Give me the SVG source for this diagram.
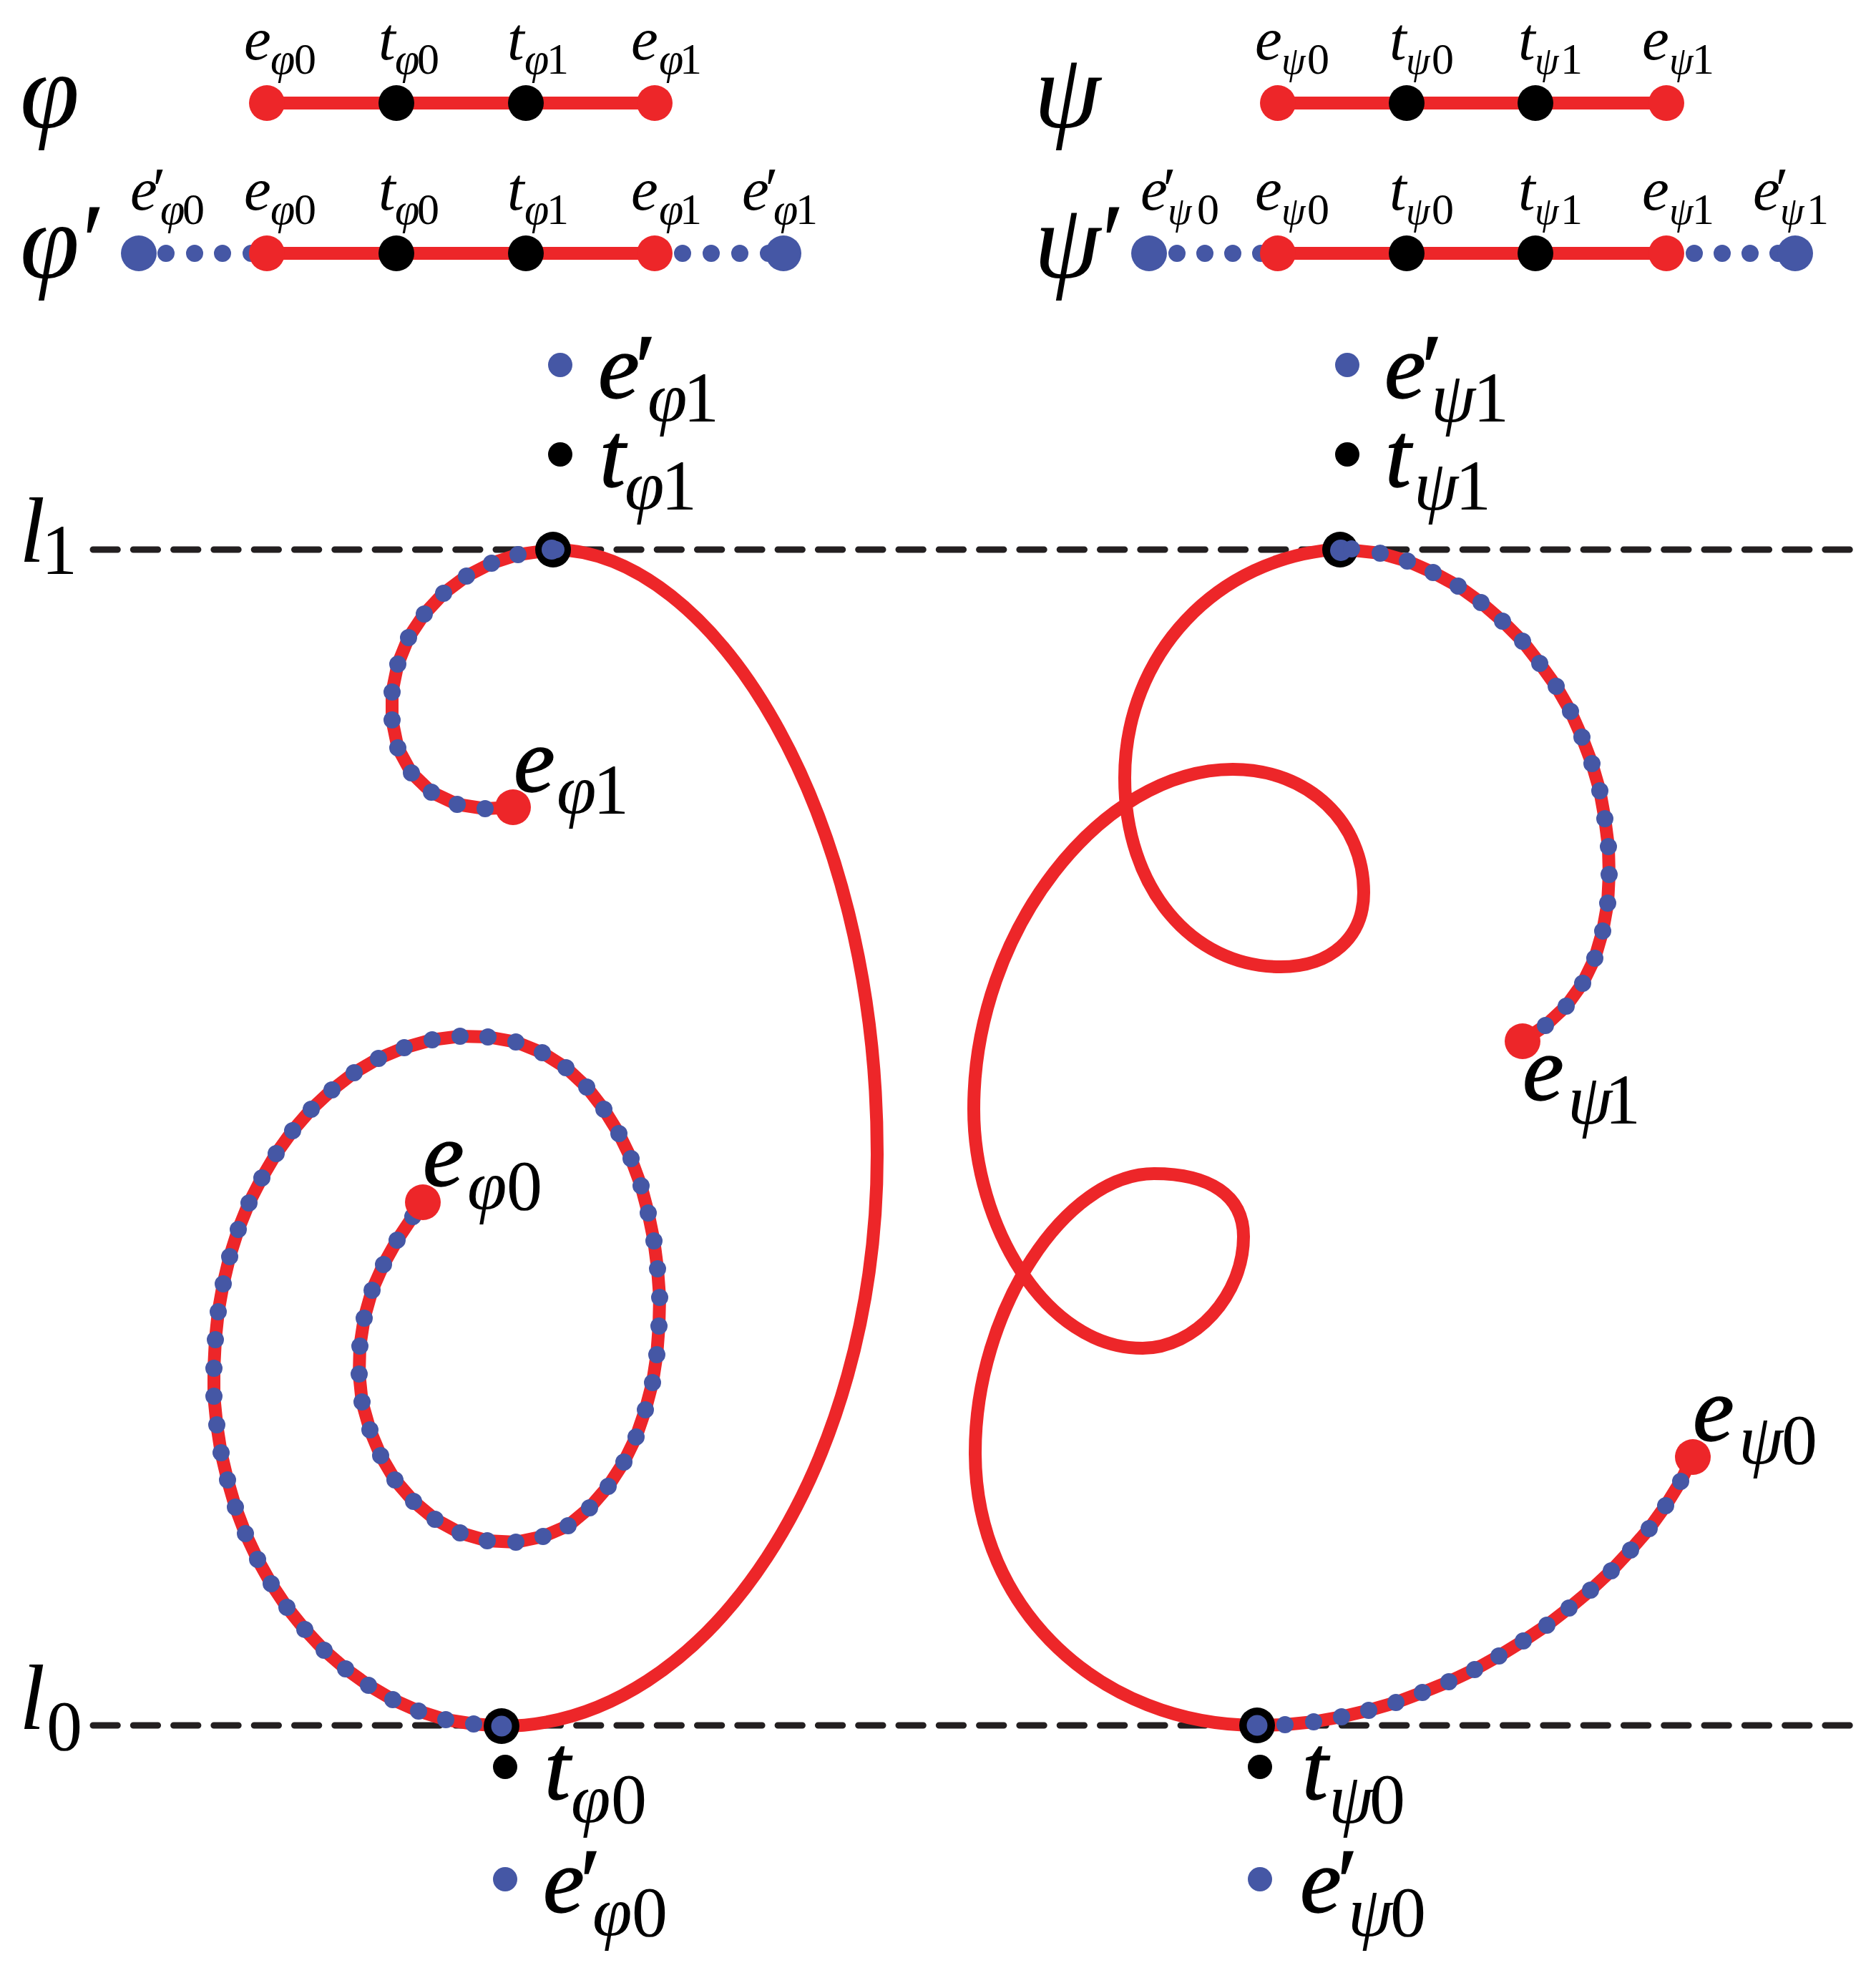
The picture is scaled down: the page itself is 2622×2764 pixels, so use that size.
<svg xmlns="http://www.w3.org/2000/svg" width="2622" height="2764" viewBox="0 0 2622 2764">
<style>
text{font-family:"Liberation Serif","Times New Roman",serif;fill:#000}
.R{font-style:italic;font-size:150px}
.b{font-style:italic;font-size:130px;stroke:#000;stroke-width:1.5px}
.bs{font-style:italic;font-size:100px}
.bd{font-size:100px}
.s{font-style:italic;font-size:85px}
.ss{font-style:italic;font-size:62px}
.sp{font-style:italic;font-size:54px}
.sd{font-size:62px}
.curve{fill:none;stroke:#ed2629;stroke-width:18;stroke-linejoin:round}
.bar{fill:none;stroke:#ed2629;stroke-width:18}
.dash{fill:none;stroke:#231f20;stroke-width:9;stroke-dasharray:34.3 22;stroke-linecap:round}
.dots{fill:none;stroke:#4557a5;stroke-width:24;stroke-linecap:round}
.red{fill:#ed2629}.blk{fill:#000}.blu{fill:#4557a5}
</style>
<g id="connectors">
<path class="dash" d="M130 768H2586"/>
<path class="dash" d="M130 2411H2586"/>
<path class="bar" d="M373 144H915M373 354H915M1786 144H2329M1786 354H2329"/>
<path class="dots" d="M232 354h0M272 354h0M311 354h0M351 354h0M954 354h0M994 354h0M1034 354h0M1074 354h0M1645 354h0M1684 354h0M1723 354h0M1762 354h0M2368 354h0M2407 354h0M2446 354h0M2485 354h0"/>
<path id="curve-phi" class="curve" d="M717 1128L678 1130 639 1124 603 1107 575 1080 556 1045 548 1006 548 967 556 928 571 891 593 858 620 829 652 805 687 787 724 775 773 768C995 768 1226 1130 1226 1613C1226 2050 990 2412 701 2412L662 2409 623 2403 585 2391 549 2375 515 2355 483 2332 453 2306 426 2277 401 2246 379 2213 360 2179 343 2143 329 2106 318 2068 309 2030 303 1991 299 1951 299 1912 301 1872 305 1833 312 1794 321 1756 333 1718 348 1681 366 1646 386 1612 409 1580 435 1550 464 1523 495 1499 529 1479 565 1464 604 1453 643 1448 682 1449 721 1456 758 1471 791 1492 820 1519 844 1550 865 1584 882 1619 896 1657 906 1695 914 1734 919 1773 922 1813 921 1853 918 1893 912 1932 902 1970 889 2008 872 2043 850 2077 824 2107 794 2132 759 2147 721 2155 681 2153 643 2142 608 2123 578 2098 552 2068 532 2034 517 1998 506 1959 502 1920 503 1881 509 1842 520 1803 536 1767 555 1733 577 1700 591 1680"/>
<path id="curve-psi" class="curve" d="M2128 1455L2160 1433 2189 1406 2212 1374 2229 1339 2240 1301 2247 1262 2249 1222 2248 1183 2243 1144 2236 1105 2225 1067 2211 1030 2195 994 2175 959 2152 927 2128 896 2100 868 2070 842 2038 819 2003 800 1967 784 1929 773 1873 767C1700 778 1572 915 1572 1087C1572 1240 1665 1351 1790 1351C1860 1351 1906 1310 1906 1247C1906 1150 1830 1075 1723 1075C1540 1075 1361 1300 1361 1550C1361 1710 1460 1884 1597 1884C1670 1884 1738 1810 1738 1728C1738 1670 1690 1640 1613 1640C1490 1640 1363 1830 1363 2030C1363 2250 1540 2411 1757 2411L1796 2410 1836 2406 1875 2399 1913 2390 1951 2379 1988 2365 2025 2350 2061 2333 2095 2314 2129 2293 2162 2271 2193 2247 2223 2222 2252 2195 2279 2166 2305 2136 2328 2104 2349 2070 2366 2036"/>
</g>
<g id="node-e-phi1-point"><circle class="red" cx="717" cy="1128" r="25"/></g>
<g id="node-e-psi1-point"><circle class="red" cx="2128" cy="1455" r="25"/></g>
<g id="node-e-psi0-point"><circle class="red" cx="2366" cy="2036" r="25"/></g>
<g id="curve-dots">
<path class="dots" d="M678 1130h0M639 1124h0M603 1107h0M575 1080h0M556 1045h0M548 1006h0M548 967h0M556 928h0M571 891h0M593 858h0M620 829h0M652 805h0M687 787h0M724 775h0M662 2409h0M623 2403h0M585 2391h0M549 2375h0M515 2355h0M483 2332h0M453 2306h0M426 2277h0M401 2246h0M379 2213h0M360 2179h0M343 2143h0M329 2106h0M318 2068h0M309 2030h0M303 1991h0M299 1951h0M299 1912h0M301 1872h0M305 1833h0M312 1794h0M321 1756h0M333 1718h0M348 1681h0M366 1646h0M386 1612h0M409 1580h0M435 1550h0M464 1523h0M495 1499h0M529 1479h0M565 1464h0M604 1453h0M643 1448h0M682 1449h0M721 1456h0M758 1471h0M791 1492h0M820 1519h0M844 1550h0M865 1584h0M882 1619h0M896 1657h0M906 1695h0M914 1734h0M919 1773h0M922 1813h0M921 1853h0M918 1893h0M912 1932h0M902 1970h0M889 2008h0M872 2043h0M850 2077h0M824 2107h0M794 2132h0M759 2147h0M721 2155h0M681 2153h0M643 2142h0M608 2123h0M578 2098h0M552 2068h0M532 2034h0M517 1998h0M506 1959h0M502 1920h0M503 1881h0M509 1842h0M520 1803h0M536 1767h0M555 1733h0M577 1700h0"/>
<path class="dots" d="M2160 1433h0M2189 1406h0M2212 1374h0M2229 1339h0M2240 1301h0M2247 1262h0M2249 1222h0M2248 1183h0M2243 1144h0M2236 1105h0M2225 1067h0M2211 1030h0M2195 994h0M2175 959h0M2152 927h0M2128 896h0M2100 868h0M2070 842h0M2038 819h0M2003 800h0M1967 784h0M1929 773h0M1796 2410h0M1836 2406h0M1875 2399h0M1913 2390h0M1951 2379h0M1988 2365h0M2025 2350h0M2061 2333h0M2095 2314h0M2129 2293h0M2162 2271h0M2193 2247h0M2223 2222h0M2252 2195h0M2279 2166h0M2305 2136h0M2328 2104h0M2349 2070h0"/>
</g>
<g id="node-e-phi0-point"><circle class="red" cx="591" cy="1680" r="25"/></g>
<g id="node-tangent-phi1"><circle class="blk" cx="773" cy="768" r="25"/><circle class="blu" cx="771" cy="768" r="14"/><circle class="blu" cx="777" cy="768" r="12"/></g>
<g id="node-tangent-phi0"><circle class="blk" cx="701" cy="2412" r="25"/><circle class="blu" cx="701" cy="2412" r="14.5"/></g>
<g id="node-tangent-psi1"><circle class="blk" cx="1873" cy="768" r="25"/><circle class="blu" cx="1874" cy="769" r="15"/><circle class="blu" cx="1889" cy="767" r="12"/></g>
<g id="node-tangent-psi0"><circle class="blk" cx="1757" cy="2411" r="25"/><circle class="blu" cx="1757" cy="2411" r="14.5"/></g>
<g id="node-phi-row1">
<circle class="red" cx="373" cy="144" r="25"/><circle class="blk" cx="554" cy="144" r="25"/><circle class="blk" cx="735" cy="144" r="25"/><circle class="red" cx="915" cy="144" r="25"/>
<text class="R" x="28" y="178">φ</text>
<text><tspan class="s" x="341" y="83">e</tspan><tspan class="ss" x="378" y="103">φ</tspan><tspan class="sd" x="411" y="103">0</tspan></text>
<text><tspan class="s" x="529" y="83">t</tspan><tspan class="ss" x="552" y="103">φ</tspan><tspan class="sd" x="583" y="103">0</tspan></text>
<text><tspan class="s" x="709" y="83">t</tspan><tspan class="ss" x="733" y="103">φ</tspan><tspan class="sd" x="764" y="103">1</tspan></text>
<text><tspan class="s" x="882" y="83">e</tspan><tspan class="ss" x="921" y="103">φ</tspan><tspan class="sd" x="950" y="103">1</tspan></text>
</g>
<g id="node-phi-row2">
<circle class="blu" cx="194" cy="354" r="25"/><circle class="red" cx="373" cy="354" r="25"/><circle class="blk" cx="554" cy="354" r="25"/><circle class="blk" cx="735" cy="354" r="25"/><circle class="red" cx="915" cy="354" r="25"/><circle class="blu" cx="1095" cy="354" r="25"/>
<text><tspan class="R" x="28" y="388">φ</tspan><tspan class="R" x="105" y="388">′</tspan></text>
<text><tspan class="s" x="182" y="293">e</tspan><tspan class="s" x="208" y="293">′</tspan><tspan class="ss" x="224" y="313">φ</tspan><tspan class="sd" x="255" y="313">0</tspan></text>
<text><tspan class="s" x="341" y="293">e</tspan><tspan class="ss" x="378" y="313">φ</tspan><tspan class="sd" x="411" y="313">0</tspan></text>
<text><tspan class="s" x="529" y="293">t</tspan><tspan class="ss" x="552" y="313">φ</tspan><tspan class="sd" x="583" y="313">0</tspan></text>
<text><tspan class="s" x="709" y="293">t</tspan><tspan class="ss" x="733" y="313">φ</tspan><tspan class="sd" x="764" y="313">1</tspan></text>
<text><tspan class="s" x="882" y="293">e</tspan><tspan class="ss" x="921" y="313">φ</tspan><tspan class="sd" x="950" y="313">1</tspan></text>
<text><tspan class="s" x="1037" y="293">e</tspan><tspan class="s" x="1064" y="293">′</tspan><tspan class="ss" x="1081" y="313">φ</tspan><tspan class="sd" x="1112" y="313">1</tspan></text>
</g>
<g id="node-psi-row1">
<circle class="red" cx="1786" cy="144" r="25"/><circle class="blk" cx="1966" cy="144" r="25"/><circle class="blk" cx="2146" cy="144" r="25"/><circle class="red" cx="2329" cy="144" r="25"/>
<text class="R" x="1445" y="178">ψ</text>
<text><tspan class="s" x="1754" y="83">e</tspan><tspan class="sp" x="1791" y="103">ψ</tspan><tspan class="sd" x="1827" y="103">0</tspan></text>
<text><tspan class="s" x="1942" y="83">t</tspan><tspan class="sp" x="1965" y="103">ψ</tspan><tspan class="sd" x="2001" y="103">0</tspan></text>
<text><tspan class="s" x="2122" y="83">t</tspan><tspan class="sp" x="2145" y="103">ψ</tspan><tspan class="sd" x="2181" y="103">1</tspan></text>
<text><tspan class="s" x="2295" y="83">e</tspan><tspan class="sp" x="2333" y="103">ψ</tspan><tspan class="sd" x="2365" y="103">1</tspan></text>
</g>
<g id="node-psi-row2">
<circle class="blu" cx="1606" cy="354" r="25"/><circle class="red" cx="1786" cy="354" r="25"/><circle class="blk" cx="1966" cy="354" r="25"/><circle class="blk" cx="2146" cy="354" r="25"/><circle class="red" cx="2329" cy="354" r="25"/><circle class="blu" cx="2509" cy="354" r="25"/>
<text><tspan class="R" x="1445" y="388">ψ</tspan><tspan class="R" x="1530" y="388">′</tspan></text>
<text><tspan class="s" x="1594" y="293">e</tspan><tspan class="s" x="1620" y="293">′</tspan><tspan class="sp" x="1632" y="313">ψ</tspan><tspan class="sd" x="1673" y="313">0</tspan></text>
<text><tspan class="s" x="1754" y="293">e</tspan><tspan class="sp" x="1791" y="313">ψ</tspan><tspan class="sd" x="1827" y="313">0</tspan></text>
<text><tspan class="s" x="1942" y="293">t</tspan><tspan class="sp" x="1965" y="313">ψ</tspan><tspan class="sd" x="2001" y="313">0</tspan></text>
<text><tspan class="s" x="2122" y="293">t</tspan><tspan class="sp" x="2145" y="313">ψ</tspan><tspan class="sd" x="2181" y="313">1</tspan></text>
<text><tspan class="s" x="2295" y="293">e</tspan><tspan class="sp" x="2333" y="313">ψ</tspan><tspan class="sd" x="2365" y="313">1</tspan></text>
<text><tspan class="s" x="2450" y="293">e</tspan><tspan class="s" x="2476" y="293">′</tspan><tspan class="sp" x="2488" y="313">ψ</tspan><tspan class="sd" x="2525" y="313">1</tspan></text>
</g>
<g id="node-lines-labels">
<text><tspan class="b" x="27" y="785" style="stroke:none">l</tspan><tspan class="bd" x="58" y="802">1</tspan></text>
<text><tspan class="b" x="27" y="2416" style="stroke:none">l</tspan><tspan class="bd" x="65" y="2445">0</tspan></text>
</g>
<g id="node-e-prime-phi1"><circle class="blu" cx="783" cy="510" r="17"/><text><tspan class="b" x="836" y="556">e</tspan><tspan class="b" x="880" y="556">′</tspan><tspan class="bs" x="905" y="589">φ</tspan><tspan class="bd" x="955" y="589">1</tspan></text></g>
<g id="node-t-phi1"><circle class="blk" cx="783" cy="635" r="17"/><text><tspan class="b" x="838" y="680">t</tspan><tspan class="bs" x="873" y="712">φ</tspan><tspan class="bd" x="924" y="712">1</tspan></text></g>
<g id="node-e-phi1"><text><tspan class="b" x="718" y="1106">e</tspan><tspan class="bs" x="778" y="1137">φ</tspan><tspan class="bd" x="829" y="1137">1</tspan></text></g>
<g id="node-e-phi0"><text><tspan class="b" x="591" y="1657">e</tspan><tspan class="bs" x="653" y="1690">φ</tspan><tspan class="bd" x="708" y="1690">0</tspan></text></g>
<g id="node-t-phi0"><circle class="blk" cx="706" cy="2469" r="17"/><text><tspan class="b" x="761" y="2514">t</tspan><tspan class="bs" x="798" y="2547">φ</tspan><tspan class="bd" x="854" y="2547">0</tspan></text></g>
<g id="node-e-prime-phi0"><circle class="blu" cx="706" cy="2626" r="17"/><text><tspan class="b" x="759" y="2672">e</tspan><tspan class="b" x="803" y="2672">′</tspan><tspan class="bs" x="828" y="2705">φ</tspan><tspan class="bd" x="883" y="2705">0</tspan></text></g>
<g id="node-e-prime-psi1"><circle class="blu" cx="1883" cy="510" r="17"/><text><tspan class="b" x="1935" y="556">e</tspan><tspan class="b" x="1979" y="556">′</tspan><tspan class="bs" x="2000" y="589">ψ</tspan><tspan class="bd" x="2059" y="589">1</tspan></text></g>
<g id="node-t-psi1"><circle class="blk" cx="1883" cy="635" r="17"/><text><tspan class="b" x="1936" y="680">t</tspan><tspan class="bs" x="1976" y="712">ψ</tspan><tspan class="bd" x="2034" y="712">1</tspan></text></g>
<g id="node-e-psi1"><text><tspan class="b" x="2128" y="1537">e</tspan><tspan class="bs" x="2191" y="1570">ψ</tspan><tspan class="bd" x="2243" y="1570">1</tspan></text></g>
<g id="node-e-psi0"><text><tspan class="b" x="2366" y="2013">e</tspan><tspan class="bs" x="2430" y="2045">ψ</tspan><tspan class="bd" x="2490" y="2045">0</tspan></text></g>
<g id="node-t-psi0"><circle class="blk" cx="1761" cy="2469" r="17"/><text><tspan class="b" x="1820" y="2514">t</tspan><tspan class="bs" x="1857" y="2547">ψ</tspan><tspan class="bd" x="1914" y="2547">0</tspan></text></g>
<g id="node-e-prime-psi0"><circle class="blu" cx="1761" cy="2626" r="17"/><text><tspan class="b" x="1817" y="2672">e</tspan><tspan class="b" x="1861" y="2672">′</tspan><tspan class="bs" x="1884" y="2705">ψ</tspan><tspan class="bd" x="1943" y="2705">0</tspan></text></g>
</svg>
